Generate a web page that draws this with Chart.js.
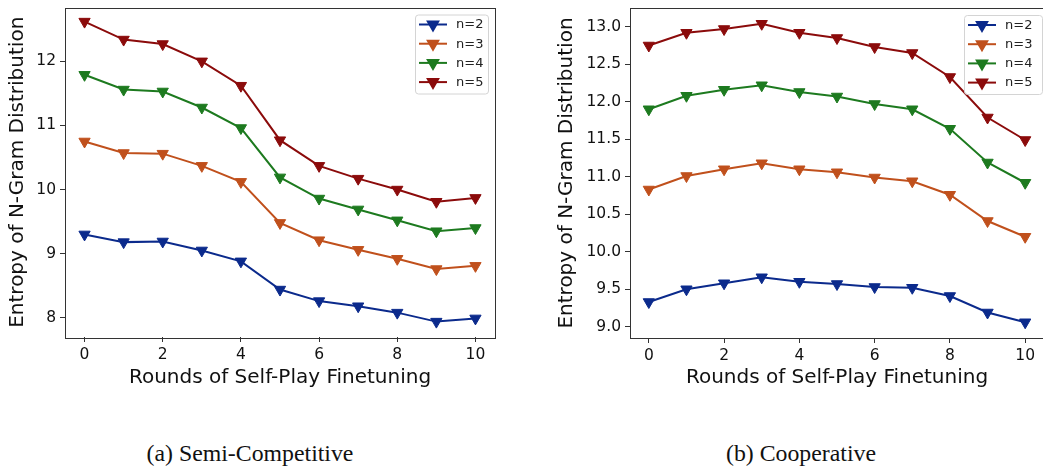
<!DOCTYPE html>
<html lang="en">
<head>
    <meta charset="UTF-8">
    <script src="https://cdn.jsdelivr.net/npm/chart.js@4.4.0/dist/chart.umd.min.js"></script>
    <title>N-Gram Entropy</title>
    <style>
        html, body { margin: 0; padding: 0; background: #fff; width: 1043px; height: 472px; overflow: hidden; position: relative; }
        .box { position: absolute; top: 0; }
        .caption {
            position: absolute; top: 439px; font-family: "Liberation Serif", "Times New Roman", serif;
            font-size: 23.8px; line-height: 28px; color: #111; transform: translateX(-50%); white-space: nowrap;
        }
    </style>
</head>
<body>

    <div class="box" style="left:0; width:520px; height:400px;"><canvas id="chartA"></canvas></div>
    <div class="box" style="left:520px; width:540px; height:400px;"><canvas id="chartB"></canvas></div>
    <div class="caption" style="left:250px;">(a) Semi-Competitive</div>
    <div class="caption" style="left:801px;">(b) Cooperative</div>

    <script>
        // rounds of self-play finetuning
        const rounds = [0, 1, 2, 3, 4, 5, 6, 7, 8, 9, 10]
        const seriesNames = ['n=2', 'n=3', 'n=4', 'n=5']
        const seriesColors = ['#0b2a8c', '#c0501c', '#1d7a1f', '#8b0b0b']

        // (a) semi-competitive
        const semiN2 = [9.30, 9.18, 9.19, 9.05, 8.88, 8.44, 8.26, 8.18, 8.08, 7.94, 7.99]
        const semiN3 = [10.75, 10.57, 10.56, 10.37, 10.12, 9.48, 9.21, 9.06, 8.92, 8.76, 8.81]
        const semiN4 = [11.79, 11.56, 11.53, 11.28, 10.96, 10.19, 9.86, 9.69, 9.52, 9.35, 9.40]
        const semiN5 = [12.62, 12.34, 12.27, 12.00, 11.62, 10.77, 10.37, 10.17, 10.00, 9.81, 9.87]

        // (b) cooperative
        const coopN2 = [9.33, 9.50, 9.58, 9.66, 9.60, 9.57, 9.53, 9.52, 9.41, 9.19, 9.06]
        const coopN3 = [10.83, 11.01, 11.10, 11.18, 11.10, 11.06, 10.99, 10.94, 10.76, 10.41, 10.20]
        const coopN4 = [11.90, 12.08, 12.16, 12.22, 12.13, 12.07, 11.97, 11.90, 11.64, 11.19, 10.92]
        const coopN5 = [12.75, 12.92, 12.97, 13.04, 12.92, 12.85, 12.73, 12.65, 12.33, 11.79, 11.49]

        const xTicks = [0, 2, 4, 6, 8, 10]
        const semiYTicks = [8, 9, 10, 11, 12]
        const coopYTicks = [9.0, 9.5, 10.0, 10.5, 11.0, 11.5, 12.0, 12.5, 13.0]

        const tickFont = { family: 'DejaVu Sans', size: 15.5 }
        const titleFont = { family: 'DejaVu Sans', size: 20 }

        function makeDatasets(list) {
            return list.map((vals, i) => ({
                label: seriesNames[i],
                data: rounds.map((r, k) => ({ x: r, y: vals[k] })),
                borderColor: seriesColors[i],
                backgroundColor: seriesColors[i],
                borderWidth: 2,
                pointStyle: 'triangle',
                rotation: 180,
                pointRadius: 6.5,
                pointBorderWidth: 1,
                tension: 0
            }))
        }

        // box around the plot area like matplotlib
        const framePlugin = {
            id: 'frame',
            afterDraw(chart) {
                const a = chart.chartArea, ctx = chart.ctx
                ctx.save()
                ctx.strokeStyle = '#333'
                ctx.lineWidth = 1
                ctx.strokeRect(Math.round(a.left) + 0.5, Math.round(a.top) + 0.5,
                               Math.round(a.right - a.left), Math.round(a.bottom - a.top))
                ctx.restore()
            }
        }

        // legend inside the plot, line + marker swatch
        const boxLegend = {
            id: 'boxLegend',
            afterDatasetsDraw(chart, args, opts) {
                const a = chart.chartArea, ctx = chart.ctx
                const w = opts.width, h = 79
                const x0 = a.right - opts.right - w, y0 = a.top + opts.top
                ctx.save()
                ctx.fillStyle = 'rgba(255,255,255,0.85)'
                ctx.strokeStyle = '#d4d4d4'
                ctx.lineWidth = 1
                ctx.beginPath()
                ctx.roundRect(x0 + 0.5, y0 + 0.5, w, h, 3)
                ctx.fill()
                ctx.stroke()
                chart.data.datasets.forEach((ds, i) => {
                    const cy = y0 + 10 + i * 19.2
                    ctx.strokeStyle = ds.borderColor
                    ctx.fillStyle = ds.borderColor
                    ctx.lineWidth = 2
                    ctx.beginPath()
                    ctx.moveTo(x0 + 4, cy)
                    ctx.lineTo(x0 + 32, cy)
                    ctx.stroke()
                    Chart.helpers.drawPoint(ctx, { pointStyle: 'triangle', rotation: 180, radius: 6, borderWidth: 1 }, x0 + 18, cy)
                    ctx.fillStyle = '#222'
                    ctx.font = '13px "DejaVu Sans"'
                    ctx.textBaseline = 'middle'
                    ctx.fillText(ds.label, x0 + 41, cy + 0.5)
                })
                ctx.restore()
            }
        }

        function makeChart(id, datasets, yMin, yMax, yTicks, yDecimals, opt) {
            const ctx = document.getElementById(id).getContext('2d')
            return new Chart(ctx, {
                type: 'line',
                data: { datasets: datasets },
                plugins: [framePlugin, boxLegend],
                options: {
                    responsive: true,
                    maintainAspectRatio: false,
                    animation: false,
                    layout: { padding: { left: opt.padLeft, right: opt.padRight, top: opt.padTop, bottom: 0 } },
                    plugins: {
                        legend: { display: false },
                        tooltip: { enabled: false },
                        boxLegend: opt.legend
                    },
                    scales: {
                        x: {
                            type: 'linear',
                            min: -0.5, max: 10.5,
                            afterBuildTicks: (s) => { s.ticks = xTicks.map(v => ({ value: v })) },
                            afterFit: (s) => { s.height = opt.xHeight; s.paddingLeft = 0; s.paddingRight = 0 },
                            grid: { drawOnChartArea: false, drawTicks: true, tickLength: 5, tickColor: '#333' },
                            border: { display: false },
                            ticks: { font: tickFont, color: '#111', padding: 4, maxRotation: 0 },
                            title: { display: true, text: 'Rounds of Self-Play Finetuning', font: titleFont, color: '#111', padding: { top: 0, bottom: 10 } }
                        },
                        y: {
                            min: yMin, max: yMax,
                            afterBuildTicks: (s) => { s.ticks = yTicks.map(v => ({ value: v })) },
                            afterFit: (s) => { s.width = opt.yWidth; s.paddingTop = 0; s.paddingBottom = 0 },
                            grid: { drawOnChartArea: false, drawTicks: true, tickLength: 5, tickColor: '#333' },
                            border: { display: false },
                            ticks: { font: tickFont, color: '#111', padding: 4, callback: (v) => v.toFixed(yDecimals) },
                            title: { display: true, text: 'Entropy of N-Gram Distribution', font: titleFont, color: '#111', padding: 0 }
                        }
                    }
                }
            })
        }

        makeChart('chartA', makeDatasets([semiN2, semiN3, semiN4, semiN5]), 7.70, 12.84, semiYTicks, 0,
            { padLeft: 6, padRight: 25, padTop: 7, yWidth: 59, xHeight: 63, legend: { right: 7, top: 7, width: 73 } })

        makeChart('chartB', makeDatasets([coopN2, coopN3, coopN4, coopN5]), 8.85, 13.25, coopYTicks, 1,
            { padLeft: 35, padRight: 16, padTop: 8, yWidth: 75, xHeight: 62, legend: { right: 2, top: 7, width: 78 } })
    </script>

</body>
</html>
